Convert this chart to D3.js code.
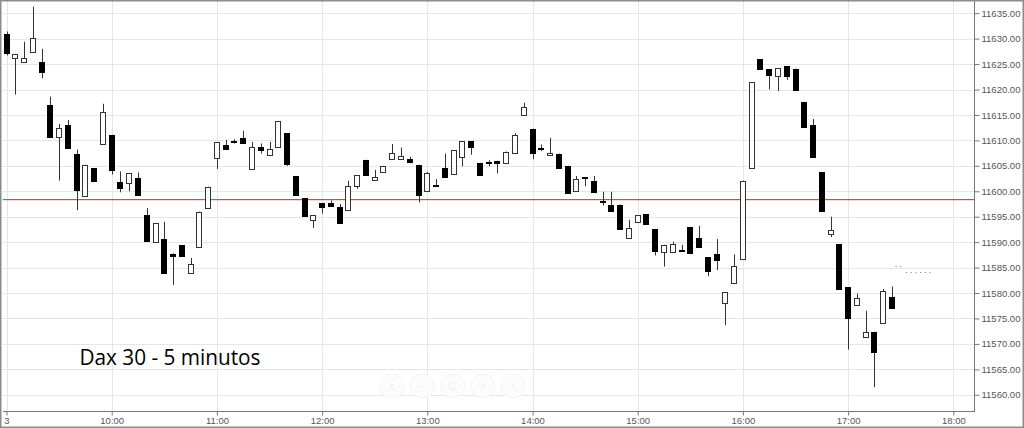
<!DOCTYPE html>
<html><head><meta charset="utf-8">
<script src="https://cdn.jsdelivr.net/npm/d3@7/dist/d3.min.js"></script>
<style>html,body{margin:0;padding:0;background:#fff;}svg{display:block;}</style>
</head><body>
<script>
// ---- DATA ----
const times = ["09:00","09:05","09:10","09:15","09:20","09:25","09:30","09:35","09:40","09:45","09:50","09:55",
"10:00","10:05","10:10","10:15","10:20","10:25","10:30","10:35","10:40","10:45","10:50","10:55",
"11:00","11:05","11:10","11:15","11:20","11:25","11:30","11:35","11:40","11:45","11:50","11:55",
"12:00","12:05","12:10","12:15","12:20","12:25","12:30","12:35","12:40","12:45","12:50","12:55",
"13:00","13:05","13:10","13:15","13:20","13:25","13:30","13:35","13:40","13:45","13:50","13:55",
"14:00","14:05","14:10","14:15","14:20","14:25","14:30","14:35","14:40","14:45","14:50","14:55",
"15:00","15:05","15:10","15:15","15:20","15:25","15:30","15:35","15:40","15:45","15:50","15:55",
"16:00","16:05","16:10","16:15","16:20","16:25","16:30","16:35","16:40","16:45","16:50","16:55",
"17:00","17:05","17:10","17:15","17:20","17:25"];
const opens  = [11630.9,11626.3,11625.4,11627.5,11625.4,11617.0,11610.8,11613.0,11607.4,11599.2,11604.6,11609.4,
11611.1,11601.8,11601.6,11602.6,11595.3,11590.1,11590.6,11587.6,11589.4,11584.1,11589.1,11596.7,
11606.5,11609.1,11609.8,11610.5,11604.4,11608.7,11607.2,11608.6,11611.4,11603.0,11598.7,11594.4,
11597.6,11597.7,11596.9,11596.3,11601.1,11606.2,11602.2,11603.8,11606.5,11606.5,11606.4,11605.2,
11599.9,11601.3,11604.5,11603.3,11606.6,11609.8,11605.6,11605.8,11606.0,11605.6,11607.4,11614.9,
11612.3,11608.6,11607.2,11607.4,11605.0,11600.1,11602.8,11602.0,11598.0,11597.4,11597.4,11590.7,
11593.9,11595.5,11592.5,11588.1,11588.1,11588.5,11592.9,11590.9,11587.0,11587.7,11578.0,11582.0,
11586.7,11604.4,11626.0,11624.0,11622.6,11624.6,11624.1,11617.6,11613.1,11603.7,11591.6,11589.6,
11581.1,11577.7,11571.4,11572.4,11574.1,11579.2];
const highs  = [11631.4,11627.0,11629.4,11636.3,11628.0,11618.6,11613.2,11614.0,11608.2,11605.2,11604.6,11617.2,
11611.1,11603.9,11603.5,11603.7,11596.7,11593.8,11594.0,11587.8,11589.4,11586.9,11596.0,11600.9,
11609.6,11610.1,11610.2,11611.9,11609.7,11609.4,11609.7,11613.8,11611.4,11603.0,11598.7,11595.3,
11597.6,11598.2,11597.5,11602.1,11603.2,11606.2,11604.2,11605.0,11609.3,11608.6,11606.8,11605.2,
11603.8,11602.4,11607.4,11608.1,11609.8,11609.8,11605.6,11606.1,11606.0,11607.8,11611.4,11617.4,
11612.3,11609.2,11610.5,11607.4,11605.0,11603.0,11602.8,11603.0,11599.9,11599.9,11597.4,11594.4,
11595.3,11595.5,11592.5,11589.5,11590.1,11589.5,11592.9,11593.2,11587.0,11590.6,11580.2,11587.6,
11602.1,11621.4,11626.0,11624.0,11624.2,11624.6,11624.1,11617.6,11614.2,11603.7,11595.0,11589.6,
11581.1,11579.9,11576.5,11572.4,11580.8,11581.3];
const lows   = [11626.7,11619.0,11625.4,11627.5,11622.2,11610.8,11602.1,11608.4,11596.3,11599.2,11602.1,11609.4,
11603.3,11599.8,11600.0,11599.3,11590.1,11590.1,11584.0,11581.6,11587.3,11584.1,11589.1,11596.5,
11604.4,11608.3,11609.4,11609.6,11604.4,11607.4,11607.2,11608.6,11605.0,11599.3,11595.1,11592.8,
11595.6,11596.9,11593.7,11596.3,11600.5,11603.3,11602.2,11603.8,11606.5,11606.5,11605.5,11597.8,
11599.9,11601.2,11602.8,11603.3,11604.9,11607.2,11603.3,11604.9,11603.5,11605.6,11607.4,11614.9,
11606.3,11607.9,11607.2,11604.4,11599.6,11600.1,11601.0,11599.9,11597.2,11596.3,11592.6,11590.7,
11593.9,11593.5,11587.4,11585.2,11588.1,11588.3,11587.8,11589.1,11583.3,11584.5,11573.7,11582.0,
11586.7,11604.4,11623.8,11620.0,11619.7,11621.9,11620.0,11612.7,11606.8,11596.1,11591.0,11580.7,
11568.9,11577.7,11571.4,11561.5,11574.1,11576.9];
const closes = [11627.2,11627.0,11626.1,11630.2,11623.5,11610.8,11612.5,11608.4,11600.3,11605.2,11602.1,11615.6,
11604.3,11600.7,11603.5,11599.3,11590.1,11593.8,11584.0,11587.3,11587.3,11585.8,11596.0,11600.9,
11609.6,11608.3,11609.8,11609.6,11608.7,11608.2,11608.4,11613.8,11605.4,11599.3,11595.1,11595.3,
11596.9,11597.1,11593.7,11601.1,11603.2,11603.3,11602.8,11605.0,11607.6,11607.0,11605.9,11599.3,
11603.5,11601.2,11602.8,11608.1,11609.8,11608.7,11603.3,11605.8,11605.7,11607.8,11611.0,11616.5,
11607.6,11608.5,11607.6,11604.6,11599.6,11602.5,11602.6,11599.9,11597.9,11596.3,11592.6,11592.7,
11595.3,11593.5,11588.1,11589.5,11589.6,11588.3,11587.8,11589.1,11584.3,11586.6,11580.2,11585.3,
11602.1,11621.4,11624.0,11622.9,11624.2,11622.6,11620.0,11612.7,11606.8,11596.1,11592.4,11580.7,
11575.1,11579.0,11572.3,11568.5,11580.4,11577.1];
const referenceLevel = 11598.4;
const dottedFrom   = ["17:27","17:33"];
const dottedTo     = ["17:31","17:47"];
const dottedValues = [11585.4, 11584.2];
const yTickValues = [11560,11565,11570,11575,11580,11585,11590,11595,11600,11605,11610,11615,11620,11625,11630,11635];
const xTickTimes  = ["09:00","10:00","11:00","12:00","13:00","14:00","15:00","16:00","17:00","18:00"];
const xTickLabels = ["3","10:00","11:00","12:00","13:00","14:00","15:00","16:00","17:00","18:00"];
const xDomain = ["08:58","18:11.8"];
const yDomain = [11635, 11560];
const title = "Dax 30 - 5 minutos";

// ---- LAYOUT ----
const W = 1024, H = 428;
const plotL = 3, plotR = 974, plotT = 1, plotB = 411;
const parseT = s => { const [h, m] = s.split(":"); return new Date(2017, 6, 3, +h, 0, 0, parseFloat(m) * 60000); };

const x = d3.scaleTime().domain(xDomain.map(parseT)).range([plotL, plotR]);
const y = d3.scaleLinear().domain(yDomain).range([13.2, 394.8]);

const svg = d3.select("body").append("svg").attr("width", W).attr("height", H)
  .style("font-family", "'Liberation Sans', Arial, sans-serif");

svg.append("rect").attr("x", 0).attr("y", 0).attr("width", W).attr("height", H).attr("fill", "#fff");

const defs = svg.append("defs");
defs.append("clipPath").attr("id", "plotclip").append("rect")
  .attr("x", plotL).attr("y", plotT).attr("width", plotR - plotL).attr("height", plotB - plotT);

// grid
const grid = svg.append("g").attr("clip-path", "url(#plotclip)");
grid.selectAll("line.h").data(yTickValues).join("line")
  .attr("x1", plotL).attr("x2", plotR)
  .attr("y1", d => Math.round(y(d)) + 0.5).attr("y2", d => Math.round(y(d)) + 0.5)
  .attr("stroke", "#e6e6e6").attr("stroke-width", 1);
grid.selectAll("line.v").data(xTickTimes).join("line")
  .attr("y1", plotT).attr("y2", plotB)
  .attr("x1", d => Math.round(x(parseT(d))) + 0.5).attr("x2", d => Math.round(x(parseT(d))) + 0.5)
  .attr("stroke", "#e6e6e6").attr("stroke-width", 1);

// navigation buttons (very faint)
const navSyms = ["\u2039", "\u2212", "C", "+", "\u203A"];
const nav = svg.append("g");
navSyms.forEach((s, i) => {
  const cx = 392 + i * 30.3, cy = 386;
  nav.append("circle").attr("cx", cx).attr("cy", cy).attr("r", 12)
    .attr("fill", "#fcfcfc").attr("stroke", "#f4f4f4").attr("stroke-width", 1);
  nav.append("text").attr("x", cx).attr("y", cy + 4).attr("text-anchor", "middle")
    .attr("font-size", 12).attr("fill", "#f0f0f0").text(s);
});

// title
svg.append("text").attr("x", 79.5).attr("y", 364.5)
  .attr("font-family", "'Open Sans', 'Noto Sans', sans-serif")
  .attr("font-size", 22.5).attr("fill", "#000")
  .attr("textLength", 181).attr("lengthAdjust", "spacingAndGlyphs")
  .text(title);

// reference line
svg.append("rect").attr("x", plotL).attr("width", plotR - plotL)
  .attr("y", Math.round(y(referenceLevel))).attr("height", 1.2)
  .attr("fill", "#f03c3c");

// candles
const candles = times.map((t, i) => ({ t: parseT(t), o: opens[i], h: highs[i], l: lows[i], c: closes[i] }));
const cg = svg.append("g").attr("clip-path", "url(#plotclip)");
const bw = 5;
const cx = d => Math.round(x(d.t));
const g = cg.selectAll("g.c").data(candles).join("g");
g.append("line")
  .attr("x1", d => cx(d) + 0.5).attr("x2", d => cx(d) + 0.5)
  .attr("y1", d => y(d.h)).attr("y2", d => y(d.l))
  .attr("stroke", "#333").attr("stroke-width", 1);
g.append("rect")
  .attr("x", d => cx(d) - 2.5)
  .attr("width", bw)
  .attr("y", d => Math.round(y(Math.max(d.o, d.c))) + 0.5)
  .attr("height", d => Math.max(1, Math.round(Math.abs(y(d.o) - y(d.c)))))
  .attr("fill", d => d.c > d.o ? "#fff" : "#000")
  .attr("stroke", d => d.c > d.o ? "#333" : "#000")
  .attr("stroke-width", 1);

// dotted segments
svg.append("g").selectAll("line").data(dottedValues).join("line")
  .attr("x1", (d, i) => x(parseT(dottedFrom[i]))).attr("x2", (d, i) => x(parseT(dottedTo[i])))
  .attr("y1", d => Math.round(y(d)) + 0.5).attr("y2", d => Math.round(y(d)) + 0.5)
  .attr("stroke", "#777").attr("stroke-width", 1).attr("stroke-dasharray", "1,3.7");

// y axis (right)
const yAxis = d3.axisRight(y).tickValues(yTickValues).tickFormat(d3.format(".2f")).tickSize(5).tickPadding(2);
const ya = svg.append("g").attr("transform", `translate(${plotR + 0.5},0)`).call(yAxis);
ya.select(".domain").remove();
ya.selectAll(".tick line").attr("stroke", "#777");
ya.selectAll(".tick text").attr("font-size", 9.5).attr("fill", "#555")
  .attr("font-family", "'Liberation Sans', Arial, sans-serif");
svg.append("line").attr("x1", plotR + 0.5).attr("x2", plotR + 0.5).attr("y1", 0).attr("y2", plotB + 1)
  .attr("stroke", "#777").attr("stroke-width", 1);

// x axis (bottom)
const xAxis = d3.axisBottom(x).tickValues(xTickTimes.map(parseT))
  .tickFormat((d, i) => xTickLabels[i]).tickSize(4).tickPadding(2);
const xa = svg.append("g").attr("transform", `translate(0,${plotB + 0.5})`).call(xAxis);
xa.select(".domain").remove();
xa.selectAll(".tick line").attr("stroke", "#777");
xa.selectAll(".tick text").attr("font-size", 9.5).attr("fill", "#555")
  .attr("font-family", "'Liberation Sans', Arial, sans-serif");
svg.append("line").attr("x1", plotL).attr("x2", plotR + 1).attr("y1", plotB + 0.5).attr("y2", plotB + 0.5)
  .attr("stroke", "#777").attr("stroke-width", 1);

// outer frame
svg.append("rect").attr("x", 0.75).attr("y", 0.75).attr("width", W - 1.5).attr("height", H - 1.5)
  .attr("fill", "none").attr("stroke", "#8c8c8c").attr("stroke-width", 1.5);
</script>
</body></html>
